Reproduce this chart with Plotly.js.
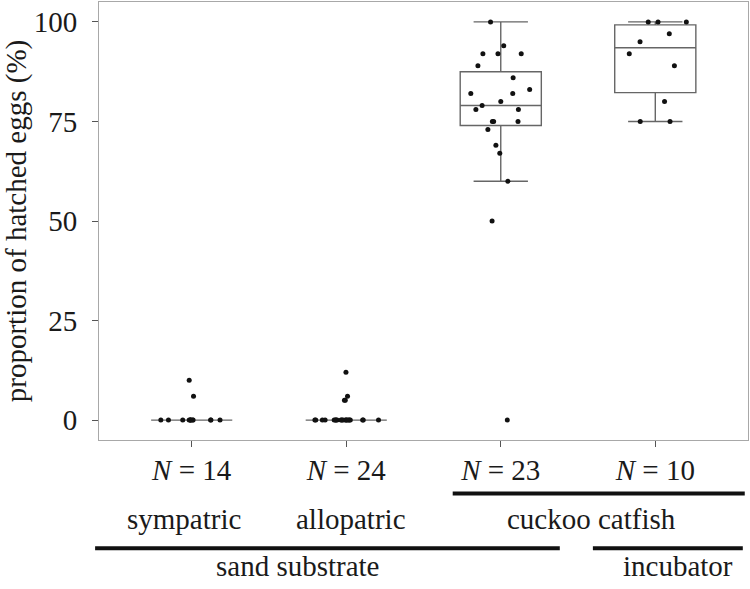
<!DOCTYPE html>
<html>
<head>
<meta charset="utf-8">
<script src="https://cdn.plot.ly/plotly-3.0.1.min.js"></script>
<style>body{margin:0;background:#fff;} #plot{width:750px;height:589px;}</style>
</head>
<body>
<div id="plot"></div>
<script>
// groups on the x axis and their tick labels
var groups = ['sympatric', 'allopatric', 'cuckoo', 'incubator'];
var tickLabels = ['<i>N</i> = 14', '<i>N</i> = 24', '<i>N</i> = 23', '<i>N</i> = 10'];

// proportion of hatched eggs (%) per clutch
var sympatric = [0, 0, 0, 0, 0, 0, 0, 0, 0, 0, 0, 0, 6, 10];
var allopatric = [0, 0, 0, 0, 0, 0, 0, 0, 0, 0, 0, 0, 0, 0, 0, 0, 0, 0, 0, 0, 5, 5, 6, 12];
var cuckoo = [100, 94, 92, 92, 92, 89, 86, 83, 82, 82, 80, 79, 78, 78, 75, 75, 75, 73, 69, 67, 60, 50, 0];
var incubator = [100, 100, 100, 97, 95, 92, 89, 80, 75, 75];

var series = [sympatric, allopatric, cuckoo, incubator];

// type 7 quantile (same as R / ggplot)
function quantile(arr, p) {
  var s = arr.slice().sort(function(a, b) { return a - b; });
  var h = (s.length - 1) * p;
  var lo = Math.floor(h);
  var hi = Math.ceil(h);
  return s[lo] + (h - lo) * (s[hi] - s[lo]);
}

var q1 = [], med = [], q3 = [], lowf = [], upf = [];
series.forEach(function(vals) {
  var a = quantile(vals, 0.25), m = quantile(vals, 0.5), b = quantile(vals, 0.75);
  var iqr = b - a;
  var inside = vals.filter(function(v) { return v >= a - 1.5 * iqr && v <= b + 1.5 * iqr; });
  q1.push(a); med.push(m); q3.push(b);
  lowf.push(Math.min.apply(null, inside));
  upf.push(Math.max.apply(null, inside));
});

var px = [], py = [];
series.forEach(function(vals, i) {
  vals.forEach(function(v) { px.push(groups[i]); py.push(v); });
});

var boxes = {
  type: 'box',
  x: groups,
  q1: q1,
  median: med,
  q3: q3,
  lowerfence: lowf,
  upperfence: upf,
  boxpoints: false,
  line: {color: '#666', width: 1.4},
  fillcolor: 'rgba(255,255,255,0)',
  whiskerwidth: 0.67
};

var points = {
  type: 'box',
  x: px,
  y: py,
  boxpoints: 'all',
  jitter: 0.9,
  pointpos: 0,
  line: {color: 'rgba(0,0,0,0)', width: 0},
  fillcolor: 'rgba(0,0,0,0)',
  whiskerwidth: 0,
  marker: {color: '#111', size: 5}
};

function serif() {
  return {family: '"Liberation Serif", "Times New Roman", serif', size: 29, color: '#1a1a1a'};
}

function label(text, x, y) {
  return {text: text, xref: 'paper', x: x, yref: 'paper', y: y, xanchor: 'center', yanchor: 'middle',
          showarrow: false, font: serif()};
}

var layout = {
  width: 750,
  height: 589,
  margin: {l: 99, r: 2, t: 2, b: 149},
  paper_bgcolor: '#fff',
  plot_bgcolor: '#fff',
  showlegend: false,
  hovermode: false,
  boxmode: 'overlay',
  boxgap: 0.25,
  font: serif(),
  xaxis: {
    type: 'category',
    categoryorder: 'array',
    categoryarray: groups,
    tickvals: groups,
    ticktext: tickLabels,
    tickfont: serif(),
    range: [-0.6, 3.6],
    ticks: 'outside',
    ticklen: 6,
    tickcolor: '#555',
    ticklabelstandoff: -2,
    showline: true,
    mirror: true,
    linecolor: '#a8a8a8',
    linewidth: 1,
    showgrid: false,
    zeroline: false
  },
  yaxis: {
    title: {text: 'proportion of hatched eggs (%)', font: serif(), standoff: 12},
    tickfont: serif(),
    range: [-5, 105],
    tickvals: [0, 25, 50, 75, 100],
    ticks: 'outside',
    ticklen: 6,
    tickcolor: '#555',
    ticklabelstandoff: 9,
    showline: true,
    mirror: true,
    linecolor: '#a8a8a8',
    linewidth: 1,
    showgrid: false,
    zeroline: false
  },
  annotations: [
    label('sympatric', 0.131, -0.18),
    label('allopatric', 0.388, -0.18),
    label('cuckoo catfish', 0.759, -0.18),
    label('sand substrate', 0.306, -0.288),
    label('incubator', 0.892, -0.288)
  ],
  shapes: [
    {type: 'line', xref: 'paper', yref: 'paper', x0: 0.545, x1: 0.995, y0: -0.122, y1: -0.122, line: {color: '#111', width: 4}},
    {type: 'line', xref: 'paper', yref: 'paper', x0: -0.006, x1: 0.71, y0: -0.247, y1: -0.247, line: {color: '#111', width: 4}},
    {type: 'line', xref: 'paper', yref: 'paper', x0: 0.761, x1: 0.992, y0: -0.247, y1: -0.247, line: {color: '#111', width: 4}}
  ]
};

Plotly.newPlot('plot', [boxes, points], layout, {staticPlot: true});
</script>
</body>
</html>
